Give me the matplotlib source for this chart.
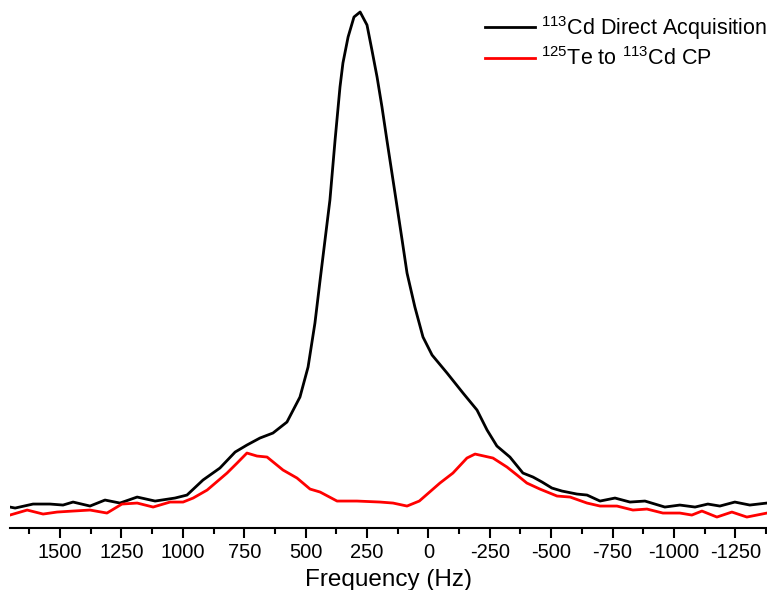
import matplotlib.pyplot as plt
import numpy as np

plt.rcParams['font.family'] = ['Liberation Sans', 'DejaVu Sans']
plt.rcParams['mathtext.fontset'] = 'custom'
plt.rcParams['mathtext.rm'] = 'Liberation Sans'
plt.rcParams['axes.unicode_minus'] = False

# 113Cd direct acquisition (frequency in Hz, intensity in arb. units)
direct_freq = [1704, 1683, 1610, 1541, 1488, 1447, 1378, 1317, 1256, 1186, 1113, 1032,
               983, 918, 849, 787, 739, 686, 633, 576, 523, 490, 462, 441, 421, 401,
               380, 360, 348, 327, 303, 278, 250, 230, 209, 189, 169, 136, 107, 87, 55,
               22, -15, -76, -141, -198, -239, -279, -332, -385, -426, -463, -503, -544,
               -605, -646, -699, -760, -821, -882, -963, -1024, -1086, -1138, -1187,
               -1248, -1309, -1379]
direct_int = [21, 20, 24, 24, 23, 26, 22, 28, 25, 31, 27, 30,
              33, 48, 60, 76, 83, 90, 95, 106, 131, 161, 205, 248, 288, 328,
              388, 441, 465, 491, 511, 516, 503, 478, 451, 421, 388, 335, 288, 255, 221,
              191, 173, 155, 135, 118, 98, 82, 71, 55, 51, 46, 40, 37,
              34, 33, 27, 30, 26, 27, 21, 23, 21, 24, 22,
              26, 23, 25]

# 125Te -> 113Cd cross polarisation
cp_freq = [1704, 1634, 1569, 1512, 1447, 1378, 1309, 1248, 1186, 1121, 1052, 999, 958,
           901, 820, 779, 739, 698, 657, 592, 535, 482, 441, 372, 291, 197, 144, 87,
           37, -47, -100, -157, -190, -263, -320, -361, -401, -454, -524, -577, -646,
           -699, -768, -833, -890, -955, -1024, -1073, -1114, -1175, -1236, -1297, -1379]
cp_int = [13, 18, 14, 16, 17, 18, 15, 24, 25, 21, 26, 26, 30,
          38, 55, 65, 75, 72, 71, 58, 50, 39, 36, 27, 27, 26, 25, 22,
          27, 45, 55, 70, 74, 70, 61, 53, 45, 39, 32, 31, 25,
          22, 22, 18, 19, 15, 15, 13, 17, 11, 16, 11, 15]

xticks = [1500, 1250, 1000, 750, 500, 250, 0, -250, -500, -750, -1000, -1250]

fig = plt.figure(figsize=(7.67, 5.9), dpi=100)
ax = fig.add_axes([0.013, 0.105, 0.987, 0.895])

ax.plot(direct_freq, direct_int, color='black', lw=2.0,
        label=r'$^{113}$Cd Direct Acquisition')
ax.plot(cp_freq, cp_int, color='#ff0000', lw=2.0,
        label=r'$^{125}$Te to $^{113}$Cd CP')

ax.set_xlim(1704, -1379)
ax.set_ylim(0, 528)
ax.set_xticks(xticks)
ax.set_xticks(np.arange(1625, -1400, -250), minor=True)
ax.tick_params(axis='x', which='major', direction='out', length=7, width=1.5,
               labelsize=14.5, pad=4)
ax.tick_params(axis='x', which='minor', direction='out', length=4, width=1.5)
ax.set_yticks([])
for s in ['left', 'right', 'top']:
    ax.spines[s].set_visible(False)
ax.spines['bottom'].set_linewidth(1.5)
ax.set_xlabel('Frequency (Hz)', fontsize=17.5, labelpad=5)

ax.legend(loc='upper right', bbox_to_anchor=(1.026, 1.01), frameon=False,
          fontsize=15.5, handlelength=2.3, handletextpad=0.3, labelspacing=0.25)

fig.savefig('out.png', dpi=100)
